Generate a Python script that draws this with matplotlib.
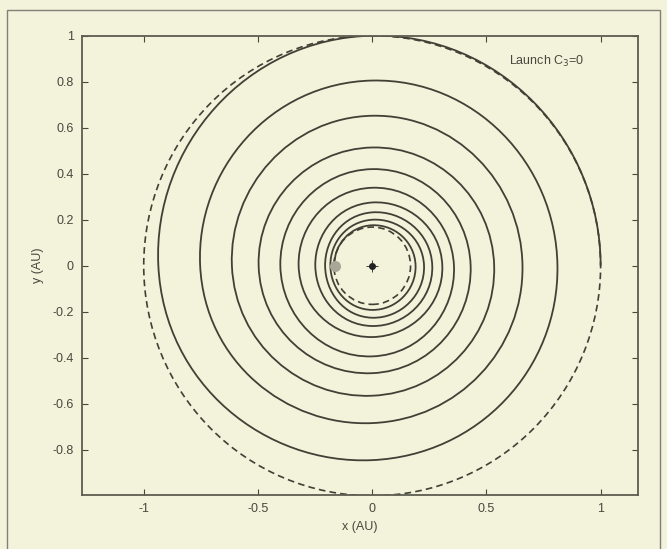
import numpy as np
import matplotlib
import matplotlib.pyplot as plt
from matplotlib.path import Path
from matplotlib.patches import PathPatch, Circle, Rectangle

matplotlib.use('agg')

# radius (AU) where the trajectory crosses the axes, every quarter turn
# counterclockwise starting on +x
spiral_r = [1.0, 1.0, 0.936, 0.845,
            0.811, 0.805, 0.753, 0.684,
            0.658, 0.652, 0.614, 0.565,
            0.534, 0.514, 0.497, 0.467,
            0.431, 0.420, 0.402, 0.394,
            0.358, 0.339, 0.322, 0.310,
            0.307, 0.275, 0.249, 0.262,
            0.263, 0.232, 0.206, 0.226,
            0.227, 0.200, 0.183, 0.192,
            0.190, 0.176, 0.165]
orbit_r = [1.0, 0.168]          # dashed start / target orbits
arrival = [-0.162, 0.0]
sun = [0.0, 0.0]

xticks = [-1, -0.5, 0, 0.5, 1]
xtick_labels = ['-1', '-0.5', '0', '0.5', '1']
yticks = [-0.8, -0.6, -0.4, -0.2, 0, 0.2, 0.4, 0.6, 0.8, 1]
ytick_labels = ['-0.8', '-0.6', '-0.4', '-0.2', '0', '0.2', '0.4', '0.6', '0.8', '1']

bg = '#f3f2da'
ink = '#404036'
grey = '#48483f'

plt.rcParams['font.family'] = ['Liberation Sans', 'DejaVu Sans']


def spiral_path(radii):
    # smooth curve through the quarter-turn crossings, drawn as bezier segments
    th = np.arange(len(radii)) * np.pi / 2
    r = np.array(radii)
    dr = np.gradient(r, th)
    er = np.stack([np.cos(th), np.sin(th)], axis=1)
    et = np.stack([-np.sin(th), np.cos(th)], axis=1)
    pts = r[:, None] * er
    d = (np.pi / 6) * dr[:, None] * er + 0.5523 * r[:, None] * et
    verts = [pts[0]]
    codes = [Path.MOVETO]
    for i in range(len(r) - 1):
        verts += [pts[i] + d[i], pts[i + 1] - d[i + 1], pts[i + 1]]
        codes += [Path.CURVE4] * 3
    return Path(verts, codes)


fig = plt.figure(figsize=(6.67, 5.49), dpi=100, facecolor=bg)
ax = fig.add_axes([0.123, 0.099, 0.834, 0.836], facecolor=bg)

for r in orbit_r:
    ax.add_patch(Circle((0, 0), r, fill=False, ls=(0, (4, 2.5)), lw=1.2, color=ink))

ax.add_patch(PathPatch(spiral_path(spiral_r), fill=False, lw=1.3, edgecolor=ink))

ax.plot(arrival[0], arrival[1], 'o', ms=8, color='#a8a898', mec='none')
ax.plot(sun[0], sun[1], 'o', ms=4, color='#222')
ax.plot(sun[0], sun[1], '+', ms=8, mew=0.6, color='#222')

ax.text(0.60, 0.89, 'Launch C$_3$=0', fontsize=9, color=grey, va='center')

ax.set_xlim(-1.27, 1.165)
ax.set_ylim(-0.995, 1.0)
ax.set_xticks(xticks)
ax.set_xticklabels(xtick_labels)
ax.set_yticks(yticks)
ax.set_yticklabels(ytick_labels)
ax.tick_params(direction='in', top=True, right=True, length=4, width=0.8,
               color=grey, labelcolor=grey, labelsize=9, pad=6)
for s in ax.spines.values():
    s.set_color('#5c5c50')
    s.set_linewidth(1.3)

ax.set_xlabel('x (AU)', fontsize=9, color=grey, labelpad=4)
ax.set_ylabel('y (AU)', fontsize=9, color=grey, labelpad=6)

# thin frame around the figure panel
fig.add_artist(Rectangle((0.0105, -0.02), 0.979, 1.0018, transform=fig.transFigure,
                         fill=False, lw=1.0, edgecolor='#808078'))

fig.savefig('out.png', dpi=100, facecolor=bg)
